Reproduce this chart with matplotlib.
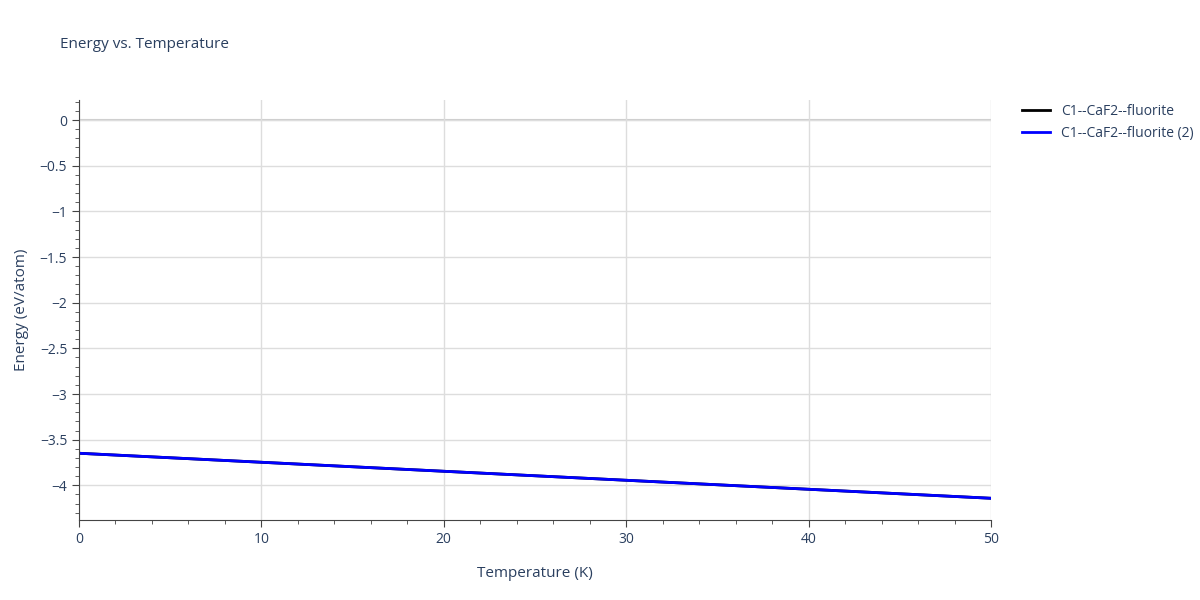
import matplotlib
matplotlib.use("Agg")
import matplotlib.pyplot as plt
from matplotlib.ticker import MultipleLocator, FuncFormatter

temperature = [0, 50]
energy_1 = [-3.649, -4.142]
energy_2 = [-3.649, -4.142]
series_labels = ["C1--CaF2--fluorite", "C1--CaF2--fluorite (2)"]

text_color = "#2a3f5f"
plt.rcParams["font.family"] = ["Open Sans", "DejaVu Sans"]

fig = plt.figure(figsize=(12, 6), dpi=100)
ax = fig.add_axes([79 / 1200, 1 - 520 / 600, 912 / 1200, 420 / 600])

ax.plot(temperature, energy_1, color="black", lw=2, label=series_labels[0])
ax.plot(temperature, energy_2, color="blue", lw=2, label=series_labels[1])

ax.set_xlim(0, 50)
ax.set_ylim(-4.38, 0.22)
ax.xaxis.set_major_locator(MultipleLocator(10))
ax.xaxis.set_minor_locator(MultipleLocator(2))
ax.yaxis.set_major_locator(MultipleLocator(0.5))
ax.yaxis.set_minor_locator(MultipleLocator(0.1))
ax.yaxis.set_major_formatter(FuncFormatter(lambda v, p: f"{v:g}".replace("-", "\u2212")))

ax.grid(True, which="major", color="#dddddd", lw=1)
ax.axhline(0, color="#cccccc", lw=1.5, zorder=0)
for s in ["top", "right"]:
    ax.spines[s].set_visible(False)
ax.spines["left"].set_color("#444444")
ax.spines["bottom"].set_color("#444444")
ax.tick_params(which="major", direction="out", length=5, color="#444444", labelcolor=text_color, labelsize=10)
ax.tick_params(which="minor", direction="out", length=3, color="#444444")

ax.set_xlabel("Temperature (K)", color=text_color, fontsize=11, labelpad=14)
ax.set_ylabel("Energy (eV/atom)", color=text_color, fontsize=11, labelpad=8)
fig.text(60 / 1200, 1 - 45 / 600, "Energy vs. Temperature", color=text_color, fontsize=11, va="center")

ax.legend(loc="upper left", bbox_to_anchor=(1.02, 1.02), frameon=False,
          labelcolor=text_color, fontsize=10, handlelength=2)

fig.savefig("out.png", dpi=100)
